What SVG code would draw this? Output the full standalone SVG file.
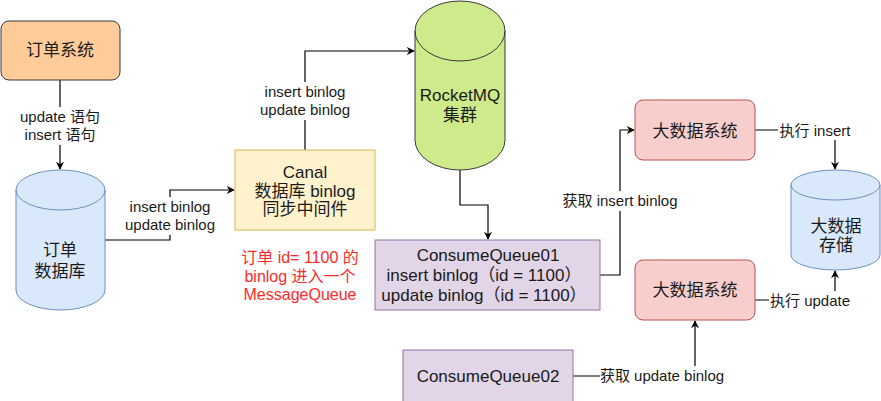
<svg xmlns="http://www.w3.org/2000/svg" width="881" height="401" viewBox="0 0 881 401">
<style>
text{font-family:"Liberation Sans","Noto Sans CJK SC",sans-serif;fill:#1a1a1a;text-anchor:middle}
.n{font-size:17px}
.l{font-size:15px}
.r{font-size:16px;fill:#ff2a2a}
.c{fill:none;stroke:#000;stroke-width:1.2;marker-end:url(#ah)}
.bg{fill:#fff}
</style>
<defs>
<marker id="ah" viewBox="0 0 10 10" refX="9" refY="5" markerWidth="8" markerHeight="8" markerUnits="userSpaceOnUse" orient="auto">
<path d="M0,0 L10,5 L0,10 L3,5 Z" fill="#000"/>
</marker>
</defs>
<rect width="881" height="401" fill="#fff"/>
<g id="connectors">
<path class="c" d="M60,80 V169"/>
<path class="c" d="M105,240 H170 V190 H234"/>
<path class="c" d="M305,150 V51 H414"/>
<path class="c" d="M460,170 V205 H488 V239"/>
<path class="c" d="M600,275 H620 V130 H634"/>
<path class="c" d="M755,130 H835 V169"/>
<path class="c" d="M755,300 H835 V271"/>
<path class="c" d="M573,376 H695 V321"/>
<rect class="bg" x="20" y="107" width="80" height="38"/>
<text class="l" x="60" y="122">update 语句</text>
<text class="l" x="60" y="140">insert 语句</text>
<rect class="bg" x="124" y="197" width="92" height="38"/>
<text class="l" x="170" y="212">insert binlog</text>
<text class="l" x="170" y="230">update binlog</text>
<rect class="bg" x="259" y="82" width="92" height="38"/>
<text class="l" x="305" y="97">insert binlog</text>
<text class="l" x="305" y="115">update binlog</text>
<rect class="bg" x="561" y="191" width="120" height="20"/>
<text class="l" x="620" y="206">获取 insert binlog</text>
<rect class="bg" x="778" y="121" width="75" height="19"/>
<text class="l" x="815" y="136">执行 insert</text>
<rect class="bg" x="769" y="291" width="82" height="19"/>
<text class="l" x="810" y="306">执行 update</text>
<rect class="bg" x="600" y="366" width="125" height="20"/>
<text class="l" x="662" y="381">获取 update binlog</text>
</g>
<g id="order-system">
<rect x="1" y="21" width="119" height="59" rx="8" fill="#ffcc99" stroke="#36393d"/>
<text class="n" x="60" y="56">订单系统</text>
</g>
<g id="order-db">
<path d="M16,190 A44.5,20 0 0 1 105,190 V290 A44.5,20 0 0 1 16,290 Z" fill="#dae8fc" stroke="#6c8ebf"/>
<path d="M16,190 A44.5,20 0 0 0 105,190" fill="none" stroke="#6c8ebf"/>
<text class="n" x="60" y="256">订单</text>
<text class="n" x="60" y="277">数据库</text>
</g>
<g id="canal">
<rect x="235" y="150" width="140" height="80" fill="#fff2cc" stroke="#d6b656"/>
<text class="n" x="305" y="178">Canal</text>
<text class="n" x="305" y="197">数据库 binlog</text>
<text class="n" x="305" y="215">同步中间件</text>
</g>
<g id="note">
<text class="r" x="300" y="263">订单 id= 1100 的</text>
<text class="r" x="300" y="282">binlog 进入一个</text>
<text class="r" x="300" y="300">MessageQueue</text>
</g>
<g id="rocketmq">
<path d="M415,31 A45,30 0 0 1 505,31 V140 A45,30 0 0 1 415,140 Z" fill="#cdeb8b" stroke="#36393d"/>
<path d="M415,31 A45,30 0 0 0 505,31" fill="none" stroke="#36393d"/>
<text class="n" x="460" y="101">RocketMQ</text>
<text class="n" x="460" y="121">集群</text>
</g>
<g id="cq01">
<rect x="375" y="240" width="225" height="70" fill="#e1d5e7" stroke="#9673a6"/>
<text class="n" x="488" y="261">ConsumeQueue01</text>
<text class="n" x="484" y="281">insert binlog（id = 1100）</text>
<text class="n" x="484" y="301">update binlog（id = 1100）</text>
</g>
<g id="cq02">
<rect x="403" y="350" width="170" height="60" fill="#e1d5e7" stroke="#9673a6"/>
<text class="n" x="488" y="382">ConsumeQueue02</text>
</g>
<g id="bigdata-1">
<rect x="635" y="100" width="120" height="60" rx="8" fill="#f8cecc" stroke="#b85450"/>
<text class="n" x="695" y="137">大数据系统</text>
</g>
<g id="bigdata-2">
<rect x="635" y="260" width="120" height="60" rx="8" fill="#f8cecc" stroke="#b85450"/>
<text class="n" x="695" y="296">大数据系统</text>
</g>
<g id="bigdata-store">
<path d="M791,185 A44.5,15 0 0 1 880,185 V255 A44.5,15 0 0 1 791,255 Z" fill="#dae8fc" stroke="#6c8ebf"/>
<path d="M791,185 A44.5,15 0 0 0 880,185" fill="none" stroke="#6c8ebf"/>
<text class="n" x="836" y="232">大数据</text>
<text class="n" x="836" y="251">存储</text>
</g>
</svg>
